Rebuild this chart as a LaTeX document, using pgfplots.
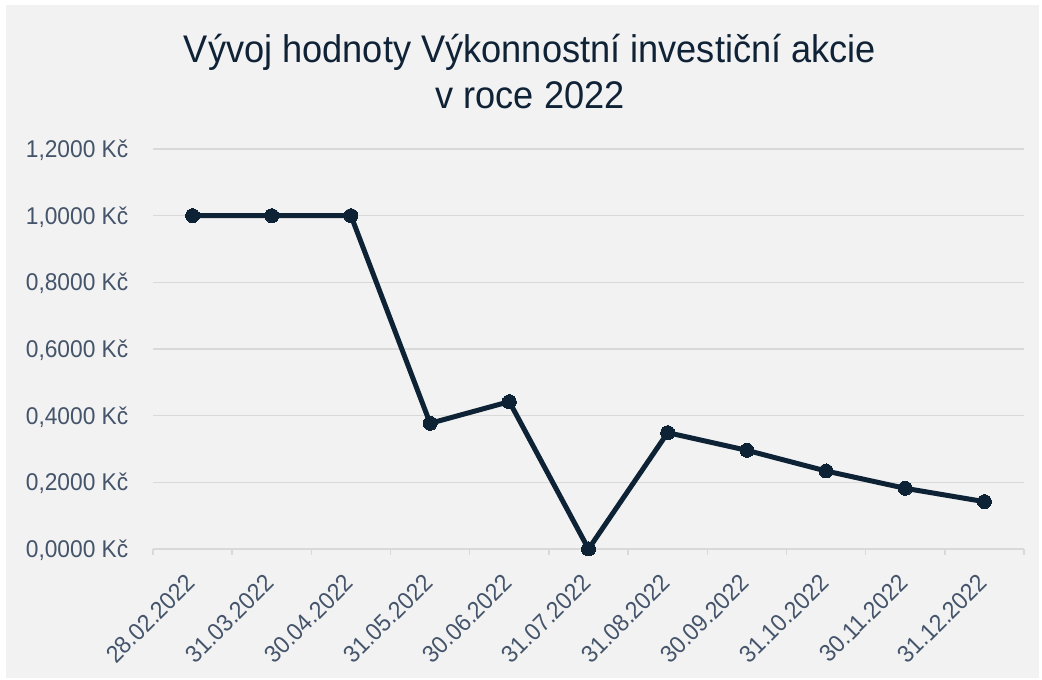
\documentclass[border=0pt]{standalone}
\usepackage{pgfplots}
\pgfplotsset{compat=1.18}
\usepackage{fontspec}
\setmainfont[FakeStretch=0.94]{Liberation Sans}
\definecolor{bg}{HTML}{F2F2F2}
\definecolor{titlec}{HTML}{0F2236}
\definecolor{tickc}{HTML}{44546A}
\definecolor{linec}{HTML}{0E2236}
\definecolor{gridc}{HTML}{D9D9D9}
\pgfplotstableread{
x y
0 1.000
1 1.000
2 1.000
3 0.377
4 0.442
5 0.000
6 0.349
7 0.296
8 0.234
9 0.182
10 0.142
}\datatable
\begin{document}
\begin{tikzpicture}[x=1bp,y=1bp]
\useasboundingbox (0,0) rectangle (1042,680);
\fill[white] (0,0) rectangle (1042,680);
\fill[bg] (6,2) rectangle (1039,675);
\node[anchor=base, inner sep=0pt, text=titlec, font=\fontsize{38.5bp}{46bp}\selectfont] at (530,617) {Vývoj hodnoty Výkonnostní investiční akcie};
\node[anchor=base, inner sep=0pt, text=titlec, font=\fontsize{38.5bp}{46bp}\selectfont] at (530,571) {v roce 2022};
\begin{axis}[
  at={(153bp,131bp)}, anchor=south west,
  scale only axis, width=871bp, height=400bp,
  xmin=-0.5, xmax=10.5, ymin=0, ymax=1.2,
  clip=false,
  axis x line*=bottom, axis y line*=left,
  y axis line style={draw=none},
  x axis line style={draw=gridc, line width=1.5bp},
  xtick={0,...,10},
  xticklabels={28.02.2022,31.03.2022,30.04.2022,31.05.2022,30.06.2022,31.07.2022,31.08.2022,30.09.2022,31.10.2022,30.11.2022,31.12.2022},
  minor xtick={-0.5,0.5,...,10.5},
  major tick length=0pt,
  minor tick length=6bp,
  tick align=outside,
  minor tick style={draw=gridc, line width=1.5bp},
  ytick={0,0.2,0.4,0.6,0.8,1.0,1.2},
  yticklabels={{0,0000 Kč},{0,2000 Kč},{0,4000 Kč},{0,6000 Kč},{0,8000 Kč},{1,0000 Kč},{1,2000 Kč}},
  ymajorgrids,
  major grid style={draw=gridc, line width=1.5bp},
  tick label style={text=tickc, font=\fontsize{24.2bp}{28bp}\selectfont, inner sep=0pt},
  yticklabel style={anchor=base east, xshift=-24.5bp, yshift=-8.6bp},
  xticklabel style={xshift=-8bp, yshift=-23bp, rotate=45, anchor=north east},
]
\addplot[linec, line width=5bp, line join=round, mark=*, mark size=7bp, mark options={fill=linec, draw=linec, line width=0pt}] table[x=x,y=y] {\datatable};
\end{axis}
\end{tikzpicture}
\end{document}
